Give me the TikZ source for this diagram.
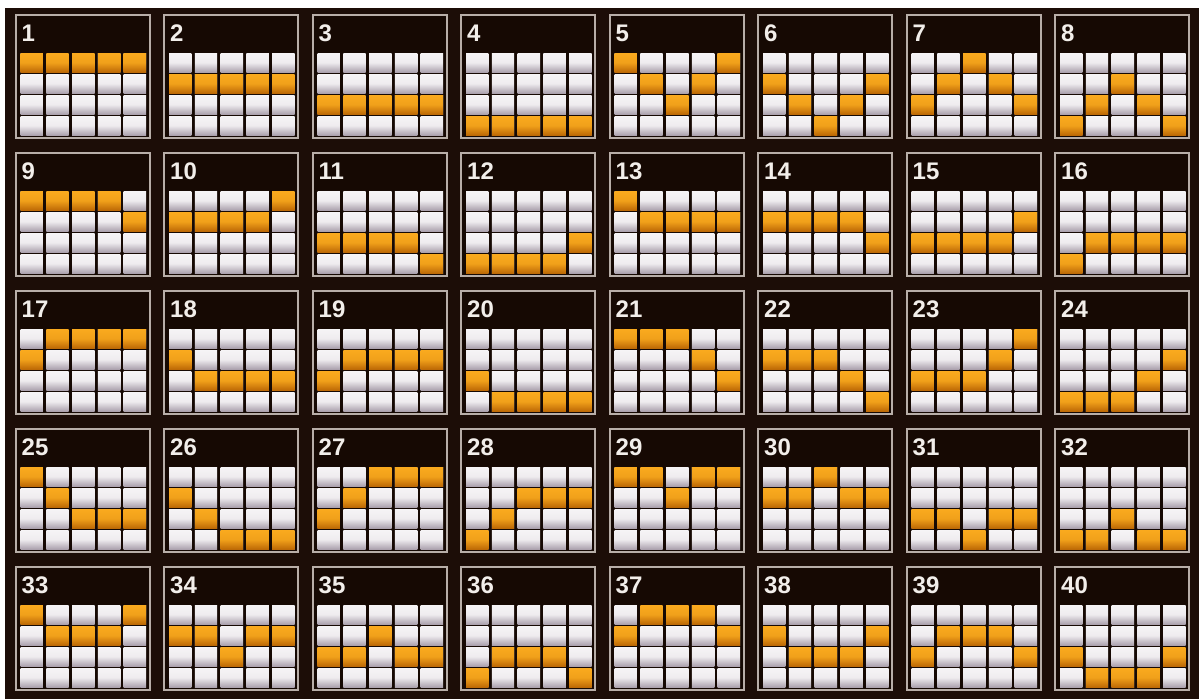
\documentclass[tikz,border=0pt]{standalone}
\usepackage{fontspec}
\setmainfont{Liberation Sans}
\definecolor{slotbg}{RGB}{28,13,7}
\definecolor{slothead}{RGB}{22,9,3}
\definecolor{slotframe}{RGB}{184,174,168}
\definecolor{cellhi}{RGB}{246,244,246}
\definecolor{celllo}{RGB}{172,162,174}
\definecolor{linehi}{RGB}{250,170,30}
\definecolor{linelo}{RGB}{190,106,6}
\definecolor{numwhite}{RGB}{242,238,234}
\usetikzlibrary{positioning}

\begin{document}
\begin{tikzpicture}[x=1pt,y=-1pt,
  panel/.style={draw=slotframe,line width=2pt,fill=slothead,minimum width=134pt,minimum height=123pt,inner sep=0pt,outer sep=0pt},
  numlabel/.style={numwhite,font=\fontsize{24}{24}\selectfont\bfseries,inner sep=0pt},
  cellbox/.style={top color=cellhi,bottom color=celllo,middle color=cellhi!90!celllo},
  linebox/.style={top color=linehi,bottom color=linelo,middle color=linehi!85!linelo}]
  \useasboundingbox (0,0) rectangle (1199,699);
  \fill[white] (0,0) rectangle (1199,699);
  \fill[slotbg] (5,8) rectangle (1199,699);
  % payline / row per reel
  \foreach \n/\a/\b/\c/\d/\e in {1/1/1/1/1/1,2/2/2/2/2/2,3/3/3/3/3/3,4/4/4/4/4/4,
      5/1/2/3/2/1,6/2/3/4/3/2,7/3/2/1/2/3,8/4/3/2/3/4,
      9/1/1/1/1/2,10/2/2/2/2/1,11/3/3/3/3/4,12/4/4/4/4/3,
      13/1/2/2/2/2,14/2/2/2/2/3,15/3/3/3/3/2,16/4/3/3/3/3,
      17/2/1/1/1/1,18/2/3/3/3/3,19/3/2/2/2/2,20/3/4/4/4/4,
      21/1/1/1/2/3,22/2/2/2/3/4,23/3/3/3/2/1,24/4/4/4/3/2,
      25/1/2/3/3/3,26/2/3/4/4/4,27/3/2/1/1/1,28/4/3/2/2/2,
      29/1/1/2/1/1,30/2/2/1/2/2,31/3/3/4/3/3,32/4/4/3/4/4,
      33/1/2/2/2/1,34/2/2/3/2/2,35/3/3/2/3/3,36/4/3/3/3/4,
      37/2/1/1/1/2,38/2/3/3/3/2,39/3/2/2/2/3,40/3/4/4/4/3}{
    \pgfmathtruncatemacro\col{mod(\n-1,8)}
    \pgfmathtruncatemacro\row{div(\n-1,8)}
    \pgfmathsetmacro\px{15.5+148.5*\col}
    \pgfmathsetmacro\py{15+138*\row}
    \node[panel] (p\n) at (\px+67,\py+61.5) {};
    \node[numlabel,below right=10pt and 6pt of p\n.north west] (t\n) {\n};
    \foreach \k in {1,...,5}
      \foreach \r in {1,...,4}
        \fill[cellbox] ({\px+5+25.8*(\k-1)},{\py+38+21*(\r-1)}) rectangle ++(22.4,19);
    \foreach \k/\r in {1/\a,2/\b,3/\c,4/\d,5/\e}
      \fill[linebox] ({\px+5+25.8*(\k-1)},{\py+38+21*(\r-1)}) rectangle ++(22.4,19);
  }
\end{tikzpicture}
\end{document}
